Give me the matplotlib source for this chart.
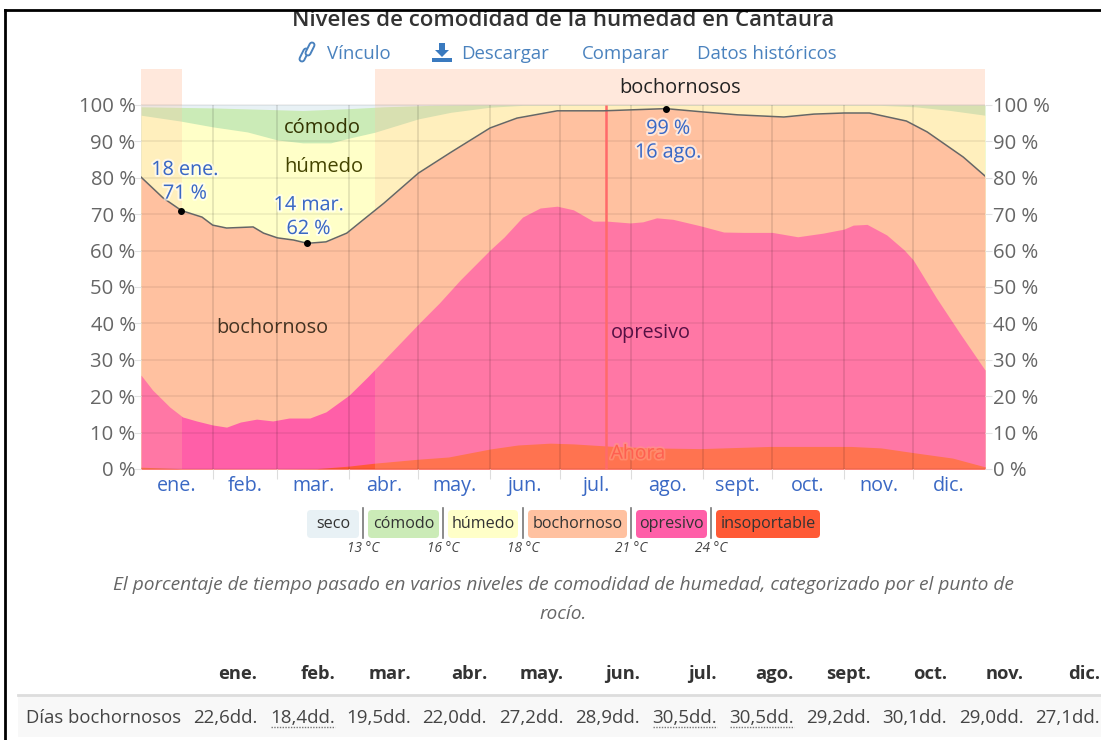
import matplotlib
matplotlib.use("Agg")
import matplotlib.pyplot as plt
import matplotlib.patheffects as pe
from matplotlib.patches import FancyBboxPatch, Rectangle, Polygon
from matplotlib.transforms import ScaledTranslation

plt.rcParams["font.family"] = ["Open Sans", "DejaVu Sans"]

# cada serie es el borde superior de su franja, con sus propios dias (desde el 1 de enero)
dias_ins = [0, 17, 60, 76, 90, 101, 120, 133, 151, 163, 177, 187, 202, 220, 242, 272, 307, 320, 334, 351, 365]
insoportable = [0.5, 0.1, 0.05, 0.1, 0.8, 1.6, 2.7, 3.3, 5.5, 6.6, 7.1, 6.9, 6.3, 5.8, 5.6, 6.2, 6.2, 5.8, 4.5, 3, 0.6]

dias_opr = [0, 5, 12.5, 18, 24, 31, 37, 43, 50, 57, 64, 73, 80, 85, 90, 98, 108, 121, 129, 138,
            151, 157, 165, 172.6, 180, 187, 195.5, 201.5, 211.5, 217, 223, 230, 242, 252, 260.5,
            273, 284, 295, 304, 308, 314, 322.5, 330, 334, 344, 354, 365]
opresivo = [25.8, 21.7, 17, 14.3, 13.2, 12.1, 11.5, 12.9, 13.7, 13.2, 14, 14, 15.7, 18, 20.3, 25.3, 31.9, 40.5, 45.6, 51.9,
            60.2, 63.7, 69.2, 71.7, 72.2, 71.2, 68.1, 68.1, 67.6, 67.9, 69, 68.6, 66.8, 65.1, 65,
            65, 63.8, 64.8, 65.9, 67, 67.2, 64.3, 60.2, 57.4, 47, 37.4, 27.2]

dias_boch = [0, 9.5, 17.5, 26.4, 31, 37, 48.5, 53, 59, 66, 72, 80, 89, 96, 105, 120, 134, 151, 162.6,
             180, 200, 227, 243, 258, 278, 291, 304, 315, 331, 340, 355.6, 365]
bochornoso = [80.2, 74.5, 71, 69.2, 67, 66.2, 66.5, 64.8, 63.5, 62.9, 62, 62.4, 64.8, 68.4, 73, 81.3, 87, 93.7, 96.4,
              98.4, 98.4, 99, 98.1, 97.3, 96.7, 97.5, 97.8, 97.8, 95.6, 92.6, 85.7, 80.5]

dias_hum = [0, 17, 31, 46, 59, 70, 82, 90, 101, 120, 134, 151, 165, 320, 335, 350, 365]
humedo = [97.2, 95.6, 94, 92.6, 90.4, 89.6, 89.6, 90.9, 92.5, 96.2, 98, 99.4, 99.9, 99.9, 99.5, 98.5, 97.2]

dias_com = [0, 31, 70, 90, 105, 125, 140, 365]
comodo = [99.5, 99.2, 98.5, 99, 99.5, 99.9, 100, 100]

dias_marca = [17.5, 72, 227]
valores_marca = [71, 62, 99]

inicio_mes = [31, 59, 90, 120, 151, 181, 212, 243, 273, 304, 334]
centro_mes = [15.5, 45, 74.5, 105, 135.5, 166, 196.5, 227.5, 258, 288.5, 319, 349.5]
meses = ["ene.", "feb.", "mar.", "abr.", "may.", "jun.", "jul.", "ago.", "sept.", "oct.", "nov.", "dic."]
pct = list(range(0, 101, 10))
tramos_bochornosos = [(0, 17.7), (101, 365)]
dia_ahora = 201

leyenda = ["seco", "cómodo", "húmedo", "bochornoso", "opresivo", "insoportable"]
umbrales = ["13 °C", "16 °C", "18 °C", "21 °C", "24 °C"]
dias_bochornosos = ["22,6dd.", "18,4dd.", "19,5dd.", "22,0dd.", "27,2dd.", "28,9dd.",
                    "30,5dd.", "30,5dd.", "29,2dd.", "30,1dd.", "29,0dd.", "27,1dd."]
subrayados = [1, 6, 7]

C_SECO, C_COMODO, C_HUMEDO = "#E8F1F5", "#CBEBB7", "#FFFFC8"
C_BOCH, C_OPR, C_INS = "#FFC1A0", "#FF5FA8", "#FF5A36"
AZUL, AZUL_LINK, GRIS = "#3A68C4", "#4A82BE", "#666666"

fig = plt.figure(figsize=(11.01, 7.4), dpi=100, facecolor="white")

# capa de pagina en pixeles
pg = fig.add_axes([0, 0, 1, 1], zorder=0)
pg.set_xlim(0, 1101); pg.set_ylim(740, 0); pg.axis("off")

# grafico
ax = fig.add_axes([141/1101, (740-469)/740, (985-141)/1101, 400/740], zorder=1)
ax.patch.set_alpha(0)
ax.set_xlim(0, 365); ax.set_ylim(0, 400/3.64)

# de atras hacia adelante, cada franja tapa a la anterior
ax.fill_between([0, 365], 0, 100, color=C_SECO, lw=0, zorder=1)
for x, y, col in [(dias_com, comodo, C_COMODO), (dias_hum, humedo, C_HUMEDO), (dias_boch, bochornoso, C_BOCH),
                  (dias_opr, opresivo, C_OPR), (dias_ins, insoportable, C_INS)]:
    ax.fill_between(x, 0, y, color=col, lw=0, zorder=1)
for a, b in tramos_bochornosos:
    ax.fill_between([a, b], 0, 100, color=C_BOCH, alpha=0.25, lw=0, zorder=1.2)
    ax.fill_between([a, b], 100, 400/3.64, color="#FFE8DC", lw=0, zorder=1.2)

ax.hlines(pct, 0, 365, color="black", alpha=0.07, lw=1.2, zorder=1.5)
ax.vlines(inicio_mes, 0, 100, color="black", alpha=0.13, lw=1.1, zorder=1.5)
ax.vlines(dia_ahora, 0, 100, color="#FF6A6A", lw=1.8, zorder=1.8)
ax.plot(dias_boch, bochornoso, color="#666666", lw=1.1, zorder=2)
ax.plot(dias_marca, valores_marca, "o", color="black", ms=4, zorder=3)

for s in ax.spines.values():
    s.set_visible(False)
ax.set_yticks(pct)
ax.set_yticklabels([f"{p} %" for p in pct])
ax.tick_params(axis="y", left=True, right=True, labelleft=True, labelright=True, length=5,
               color="#E2E2E2", labelcolor=GRIS, labelsize=14.6, pad=1)
# solo las etiquetas de la izquierda van 3 px mas cerca del grafico
corrimiento = ScaledTranslation(3/100, 0, fig.dpi_scale_trans)
for tick in ax.yaxis.get_major_ticks():
    tick.label1.set_transform(tick.label1.get_transform() + corrimiento)
ax.set_xticks(inicio_mes)
ax.set_xticklabels([])
ax.tick_params(axis="x", which="major", length=7, color="#DDDDDD")
ax.set_xticks(centro_mes, minor=True)
ax.set_xticklabels(meses, minor=True)
ax.tick_params(axis="x", which="minor", length=0, labelcolor=AZUL, labelsize=14.2, pad=5)

ax.text(233, 104.8, "bochornosos", ha="center", va="center", fontsize=14.4, color="#222222", zorder=4)
ax.text(78.5, 93.7, "cómodo", ha="center", va="center", fontsize=14.5, color="#333300", zorder=4)
ax.text(79, 83, "húmedo", ha="center", va="center", fontsize=14.5, color="#444400", zorder=4)
ax.text(57, 38.6, "bochornoso", ha="center", va="center", fontsize=14.3, color="#443322", zorder=4)
ax.text(220.5, 37.3, "opresivo", ha="center", va="center", fontsize=14.3, color="#551144", zorder=4)
ax.text(215, 4.2, "Ahora", ha="center", va="center", fontsize=14, color="#FF5F50", zorder=4,
        path_effects=[pe.withStroke(linewidth=2.5, foreground="#FF9A80", alpha=0.6)])
halo = [pe.withStroke(linewidth=3, foreground="white", alpha=0.6)]
for d, y, s in [(19, 78.9, "18 ene.\n71 %"), (72.5, 69.2, "14 mar.\n62 %"), (228, 90.2, "99 %\n16 ago.")]:
    ax.text(d, y, s, ha="center", va="center", fontsize=14.2, color=AZUL, linespacing=1.25,
            path_effects=halo, zorder=4)

# encabezado
pg.text(563, 20, "Niveles de comodidad de la humedad en Cantaura", ha="center", va="center",
        fontsize=16, fontweight="semibold", color="#333333", zorder=1)
pg.add_patch(Rectangle((0, 0), 1101, 10, fc="white", ec="none", zorder=2))
pg.plot([4.5, 1101], [10, 10], color="black", lw=2, zorder=3)
pg.plot([4.5, 4.5], [10, 740], color="black", lw=2, zorder=3)
for x, s in [(327, "Vínculo"), (461, "Descargar"), (582, "Comparar"), (697, "Datos históricos")]:
    pg.text(x, 54, s, ha="left", va="center", fontsize=13.4, color=AZUL_LINK)

# iconos
for x0, y0, x1, y1 in [(302, 59, 306, 51), (308, 53, 312, 45)]:
    pg.plot([x0, x1], [y0, y1], color=AZUL_LINK, lw=5, solid_capstyle="round")
    pg.plot([x0, x1], [y0, y1], color="white", lw=2.2, solid_capstyle="round")
pg.add_patch(Polygon([(439, 43), (445, 43), (445, 50), (449, 50), (442, 57), (435, 50), (439, 50)],
                     fc="#3A7ABF", ec="none"))
pg.add_patch(Rectangle((432, 58), 20, 4, fc="#3A7ABF", ec="none"))

# leyenda
cajas = [(307, 359), (368, 439), (448, 518), (528, 627), (636, 707), (716, 820)]
colores = [C_SECO, C_COMODO, C_HUMEDO, C_BOCH, C_OPR, C_INS]
for (a, b), col, s in zip(cajas, colores, leyenda):
    pg.add_patch(FancyBboxPatch((a+3, 513), b-a-6, 22, boxstyle="round,pad=3,rounding_size=4", fc=col, ec="none"))
    pg.text((a+b)/2, 524, s, ha="center", va="center", fontsize=11.6, color="#333333")
for x, s in zip([363, 443, 523, 631, 711], umbrales):
    pg.plot([x, x], [508, 538], color="#777777", lw=1.2)
    pg.text(x, 548, s, ha="center", va="center", fontsize=9.8, style="italic", color="#444444")

pg.text(563, 585, "El porcentaje de tiempo pasado en varios niveles de comodidad de humedad, categorizado por el punto de",
        ha="center", va="center", fontsize=13.75, style="italic", color=GRIS)
pg.text(563, 614, "rocío.", ha="center", va="center", fontsize=13.75, style="italic", color=GRIS)

# tabla
columnas = [257, 335, 411, 487, 564, 640, 717, 794, 871, 947, 1024, 1100]
pg.add_patch(Rectangle((18, 696), 1083, 41, fc="#F8F8F8", ec="none"))
pg.plot([18, 1101], [695, 695], color="#DDDDDD", lw=2)
pg.text(26, 718, "Días bochornosos", ha="left", va="center", fontsize=13.3, color="#444444")
for i, x in enumerate(columnas):
    pg.text(x, 674, meses[i], ha="right", va="center", fontsize=13.2, fontweight="bold", color="#333333")
    pg.text(x, 718, dias_bochornosos[i], ha="right", va="center", fontsize=13.5, color="#444444")
    if i in subrayados:
        pg.plot([x-64, x], [727, 727], color="#777777", lw=1, ls=(0, (1, 1)))

fig.savefig("out.png", dpi=100)
